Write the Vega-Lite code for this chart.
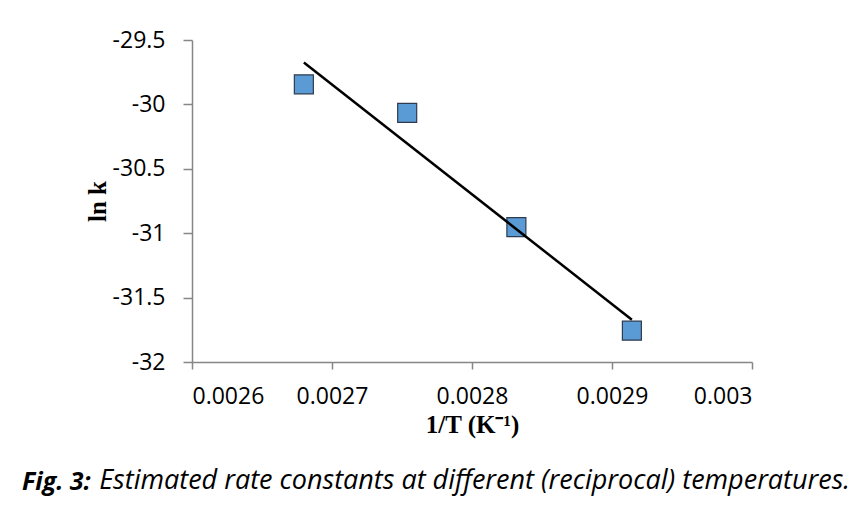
{
  "$schema": "https://vega.github.io/schema/vega-lite/v6.json",
  "width": 560,
  "height": 322,
  "autosize": {"type": "none"},
  "padding": {"left": 192, "top": 40, "right": 106, "bottom": 144},
  "background": "white",
  "config": {
    "view": {"stroke": null},
    "axis": {
      "grid": false,
      "domainColor": "#868686",
      "domainWidth": 1.5,
      "tickColor": "#868686",
      "tickWidth": 1.5,
      "labelFont": "Open Sans",
      "labelFontSize": 23,
      "labelColor": "#000000",
      "titleFont": "Liberation Serif",
      "titleFontSize": 25,
      "titleFontWeight": "bold",
      "titleColor": "#000000"
    }
  },
  "title": {
    "text": "Fig. 3:",
    "subtitle": "\u200b\u00a0\u00a0\u00a0\u00a0\u00a0\u00a0\u00a0\u00a0\u00a0\u00a0\u00a0Estimated rate constants at different (reciprocal) temperatures.",
    "orient": "bottom",
    "anchor": "start",
    "frame": "group",
    "dx": -170,
    "offset": 33,
    "font": "Open Sans",
    "fontSize": 25,
    "fontStyle": "italic",
    "fontWeight": "bold",
    "color": "#000000",
    "subtitleFont": "Open Sans",
    "subtitleFontSize": 27,
    "subtitleFontStyle": "italic",
    "subtitleFontWeight": "normal",
    "subtitleColor": "#000000",
    "subtitlePadding": -26.6
  },
  "data": {
    "values": [
      {"invT": 0.0026799, "lnk": -29.844},
      {"invT": 0.0027537, "lnk": -30.066},
      {"invT": 0.0028317, "lnk": -30.953},
      {"invT": 0.0029142, "lnk": -31.757}
    ]
  },
  "encoding": {
    "x": {
      "field": "invT",
      "type": "quantitative",
      "scale": {"domain": [0.0026, 0.003], "nice": false, "zero": false},
      "axis": {
        "title": "1/T (K⁻¹)",
        "values": [0.0026, 0.0027, 0.0028, 0.0029, 0.003],
        "labelExpr": "toString(datum.value)",
        "tickSize": 7,
        "labelPadding": 16,
        "titlePadding": 4
      }
    },
    "y": {
      "field": "lnk",
      "type": "quantitative",
      "scale": {"domain": [-32, -29.5], "nice": false, "zero": false},
      "axis": {
        "title": "ln k",
        "values": [-32, -31.5, -31, -30.5, -30, -29.5],
        "labelExpr": "toString(datum.value)",
        "tickSize": 9,
        "labelPadding": 18,
        "titlePadding": 2
      }
    }
  },
  "layer": [
    {
      "mark": {"type": "point", "shape": "square", "filled": true, "size": 361, "fill": "#5B9BD5", "stroke": "#2E3B4E", "strokeWidth": 1.2, "opacity": 1}
    },
    {
      "transform": [{"regression": "lnk", "on": "invT"}],
      "mark": {"type": "line", "color": "#000000", "strokeWidth": 2.5}
    }
  ]
}
